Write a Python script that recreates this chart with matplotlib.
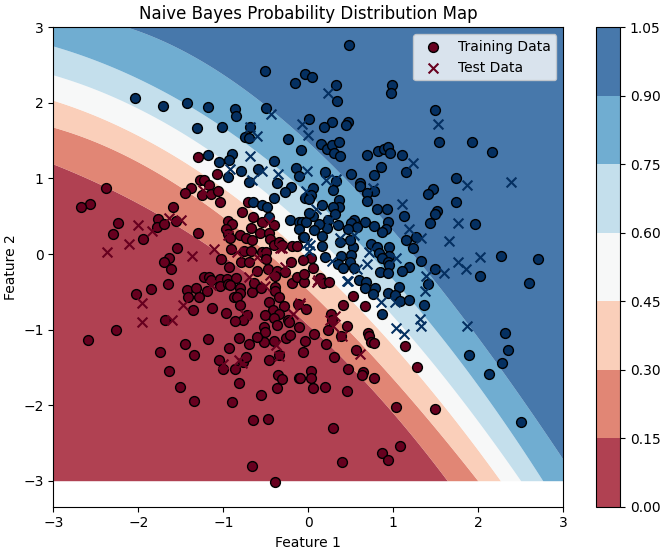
import matplotlib
matplotlib.use('Agg')
import matplotlib.pyplot as plt
import numpy as np
from matplotlib.cm import ScalarMappable
from matplotlib.colors import BoundaryNorm, ListedColormap, Normalize

# class 0 training points
train_red = [
    (-2.371,0.877),(-2.556,0.666),(-2.662,0.622),(-1.581,0.626),(-2.237,0.419),(-2.288,0.266),(-1.935,0.204),
    (-1.758,0.468),(-1.774,0.367),(-1.695,0.402),(-1.550,0.437),(-1.290,0.283),(-1.542,0.081),(-1.632,-0.046),
    (-1.687,-0.095),(-1.294,1.285),(-1.066,1.070),(-1.271,0.982),(-1.224,0.982),(-1.165,0.912),(-1.369,0.881),
    (-1.444,0.815),(-1.247,0.789),(-1.141,0.797),(-1.051,0.837),(-1.031,0.696),(-0.701,0.696),(-0.768,0.564),
    (-0.642,0.490),(-0.933,0.446),(-0.893,0.402),(-0.540,0.433),(-0.395,0.384),(-0.666,0.345),(-0.964,0.331),
    (-0.933,0.270),(-0.913,0.213),(-0.795,0.257),(-0.567,0.288),(-0.450,0.279),(-0.728,0.213),(-0.658,0.191),
    (-0.442,0.200),(-0.391,0.125),(-0.343,0.169),(-0.304,0.125),(-0.186,0.112),(-0.127,0.112),(-0.901,0.068),
    (-0.748,0.046),(-0.670,0.046),(-0.540,0.037),(-0.489,0.037),(-1.015,-0.064),(-0.925,-0.161),(-0.780,-0.099),
    (-0.685,-0.099),(-0.489,-0.060),(-0.198,-0.095),(-1.613,-0.196),(-1.640,-0.389),(-1.840,-0.460),(-2.017,-0.521),
    (-1.220,-0.293),(-1.157,-0.293),(-1.141,-0.345),(-1.027,-0.328),(-0.953,-0.328),(-0.846,-0.306),(-1.031,-0.420),
    (-0.941,-0.394),(-0.909,-0.411),(-1.184,-0.491),(-1.424,-0.473),(-1.314,-0.442),(-1.404,-0.570),(-1.279,-0.565),
    (-1.345,-0.741),(-1.125,-0.710),(-0.956,-0.776),(-0.799,-0.447),(-0.791,-0.513),(-0.870,-0.561),(-0.831,-0.570),
    (-0.799,-0.671),(-0.650,-0.499),(-0.630,-0.381),(-0.552,-0.447),(-0.591,-0.218),(-0.469,-0.196),(-0.367,-0.218),
    (-0.269,-0.236),(-0.383,-0.280),(-0.186,-0.381),(-0.127,-0.293),(-0.049,-0.367),(-0.041,-0.262),(-0.379,-0.433),
    (-0.383,-0.491),(-0.343,-0.561),(-0.450,-0.631),(-0.414,-0.732),(-0.273,-0.688),(-0.343,-0.785),(-0.501,-0.798),
    (-0.402,-0.842),(-0.233,-0.864),(-0.218,-0.899),(-0.363,-0.930),(-0.717,-0.798),(-0.760,-0.869),(-0.858,-0.877),
    (-0.116,-0.658),(-0.021,-0.719),(-0.100,-0.965),(-0.512,-0.956),(-0.505,-1.031),(-0.516,-1.163),(-0.591,-1.097),
    (-0.803,-1.102),(-0.685,-1.189),(-0.929,-1.242),(-1.176,-1.124),(-1.444,-1.185),(-1.334,-1.326),(-1.742,-1.286),
    (-1.679,-0.869),(-2.257,-1.005),(-2.583,-1.137),(-1.047,-1.400),(-0.999,-1.523),(-0.850,-1.519),(-0.764,-1.422),
    (-0.721,-1.361),(-0.461,-1.400),(-0.391,-1.141),(-0.261,-1.110),(-0.214,-1.062),(-0.033,-1.150),(-0.061,-1.295),
    (-0.343,-1.335),(-0.351,-1.594),(-0.304,-1.655),(-0.108,-1.642),(-0.363,-1.770),(-0.544,-1.862),(-0.811,-1.704),
    (-1.628,-1.545),(-1.503,-1.757),(-1.334,-1.946),(-0.886,-1.959),(-0.638,-2.196),(-0.465,-2.178),(-0.654,-2.807),
    (-0.387,-3.018),(0.042,-0.051),(0.061,-0.183),(-0.057,-0.073),(0.148,-0.306),(0.179,-0.381),(0.246,-0.359),
    (0.529,-0.556),(0.411,-0.666),(0.678,-0.688),(0.277,-0.785),(0.289,-0.864),(0.234,-0.996),(0.462,-0.943),
    (0.391,-1.075),(0.077,-1.053),(0.218,-1.185),(0.706,-1.044),(0.725,-1.084),(0.749,-1.163),(0.784,-1.167),
    (0.572,-1.264),(0.313,-1.356),(1.146,-1.216),(1.291,-1.484),(0.474,-1.515),(0.651,-1.550),(0.639,-1.598),
    (0.780,-1.642),(0.042,-1.545),(0.042,-1.642),(-0.088,-1.642),(0.057,-1.774),(0.199,-1.761),(0.458,-1.805),
    (1.040,-2.025),(1.503,-2.042),(0.293,-2.293),(1.087,-2.535),(0.871,-2.631),(0.949,-2.715),(0.403,-2.746),
]

# class 1 training points
train_blue = [
    (-2.029,2.072),(-1.703,1.962),(-1.420,2.006),(-1.169,1.949),(-0.858,1.918),(-0.846,1.835),(-0.497,2.424),
    (-0.151,2.266),(-0.033,2.389),(0.053,2.345),(-0.493,1.940),(0.014,1.795),(-1.004,1.690),(-1.302,1.668),
    (-0.677,1.681),(-0.736,1.553),(-0.685,1.545),(-0.237,1.531),(-0.084,1.382),(-1.176,1.312),(-0.894,1.329),
    (-0.929,1.255),(-1.039,1.224),(-0.398,1.233),(-0.937,1.026),(-0.784,1.110),(-0.587,1.136),(-0.135,1.149),
    (-0.108,1.039),(-0.689,0.956),(-0.359,0.951),(-0.202,0.890),(-0.265,0.819),(-0.398,0.740),(-0.638,0.688),
    (-0.532,0.652),(-0.473,0.630),(-0.461,0.499),(-0.214,0.455),(-0.108,0.424),(-0.068,0.433),(-0.108,0.336),
    (-0.061,0.235),(-0.030,0.740),(0.486,2.767),(0.336,2.235),(0.989,2.248),(0.981,2.142),(0.344,2.028),
    (1.496,1.905),(0.289,1.751),(0.187,1.681),(0.474,1.747),(0.454,1.712),(0.152,1.466),(0.230,1.400),
    (0.285,1.444),(0.372,1.483),(0.305,1.338),(0.376,1.307),(1.543,1.483),(1.932,1.492),(2.171,1.351),
    (0.698,1.316),(0.827,1.373),(0.902,1.391),(0.945,1.426),(0.965,1.338),(1.110,1.312),(0.867,1.153),
    (1.162,1.092),(0.203,1.092),(0.505,1.061),(0.776,1.044),(1.747,1.008),(0.619,0.938),(0.611,0.907),
    (0.336,0.969),(0.301,0.846),(0.057,0.881),(0.042,0.780),(0.010,0.731),(0.780,0.841),(0.698,0.806),
    (0.698,0.709),(1.476,0.868),(1.417,0.802),(1.743,0.696),(0.364,0.718),(0.364,0.630),(0.171,0.648),
    (0.293,0.626),(0.820,0.604),(0.938,0.600),(0.325,0.534),(1.138,0.512),(1.523,0.569),(1.496,0.529),
    (1.433,0.411),(1.963,0.406),(0.945,0.424),(0.926,0.336),(0.875,0.292),(0.678,0.424),(0.776,0.371),
    (0.549,0.450),(0.513,0.411),(0.584,0.362),(0.474,0.332),(0.356,0.389),(0.234,0.455),(0.226,0.345),
    (0.136,0.406),(0.069,0.323),(0.057,0.507),(-0.021,0.433),(0.010,0.542),(0.164,0.248),(-0.049,0.235),
    (1.279,0.230),(1.162,0.186),(1.236,0.081),(0.957,0.103),(0.741,0.142),(0.812,0.099),(0.835,0.015),
    (0.529,0.103),(0.384,0.160),(0.171,0.112),(0.494,0.191),(0.207,-0.033),(0.391,-0.016),(0.509,-0.007),
    (0.953,-0.016),(0.875,-0.051),(0.945,-0.095),(2.270,-0.025),(2.706,-0.060),(1.334,-0.086),(1.189,-0.161),
    (1.503,-0.187),(0.501,-0.095),(0.356,-0.130),(0.411,-0.183),(0.541,-0.174),(0.953,-0.139),(0.847,-0.227),
    (0.949,-0.249),(1.107,-0.218),(2.026,-0.288),(2.604,-0.385),(1.413,-0.394),(0.600,-0.345),(0.686,-0.367),
    (0.670,-0.442),(0.796,-0.447),(0.765,-0.521),(1.079,-0.433),(0.941,-0.508),(1.032,-0.535),(1.087,-0.614),
    (1.189,-0.609),(1.374,-0.671),(0.871,-0.785),(2.317,-1.040),(2.356,-1.260),(1.892,-1.326),(2.281,-1.431),
    (2.128,-1.589),(2.509,-2.222),
]

test_red = [
    (-2.363,0.037),(-2.10,0.138),(-2.002,0.393),(-1.829,0.314),(-1.632,0.485),(-1.487,0.450),(-1.357,-0.025),
    (-1.106,0.072),(-1.235,0.855),(-0.933,0.257),(-0.453,0.424),(-0.835,0.037),(-0.591,-0.038),(-0.324,0.090),
    (-1.954,-0.644),(-1.947,-0.895),(-1.601,-0.864),(-1.463,-0.666),(-1.141,-0.403),(-0.685,-0.293),(-0.501,-0.425),
    (-0.442,-0.271),(-0.265,-0.161),(-0.736,-0.798),(-0.175,-0.785),(-0.096,-0.644),(-0.371,-1.203),(-0.343,-1.348),
    (-1.0,-1.449),(-0.811,-1.392),(-0.776,-1.436),(0.108,-0.367),(-0.088,-0.666),(0.266,-0.864),(0.325,-0.820),
    (0.293,-0.952),(0.403,-1.084),(0.619,-1.317),(-0.305,0.081),(0.127,-0.337),
]

test_blue = [
    (-0.677,1.685),(-0.430,1.857),(-0.591,1.562),(-0.064,1.720),(0.0,1.575),(-0.677,1.307),(-0.909,1.127),
    (-0.532,1.101),(-0.355,1.070),(-0.658,0.982),(-0.009,1.101),(-0.017,0.841),(0.238,2.138),(1.531,1.725),
    (1.240,1.215),(0.215,0.982),(0.332,1.004),(0.765,0.885),(1.877,0.916),(2.395,0.956),(1.107,0.666),
    (0.101,0.595),(0.266,0.455),(1.771,0.411),(1.197,0.331),(1.338,0.222),(1.657,0.178),(0.384,0.213),
    (0.541,0.257),(0.030,0.125),(0.718,0.037),(0.285,-0.086),(0.698,-0.130),(1.040,-0.051),(2.022,-0.029),
    (1.763,-0.104),(0.580,-0.196),(0.474,-0.350),(1.602,-0.240),(1.861,-0.196),(1.397,-0.280),(1.378,-0.491),
    (0.867,-0.636),(1.024,-0.636),(1.327,-0.851),(1.334,-0.948),(1.044,-0.974),(1.134,-1.058),(1.877,-0.952),
    (-0.010,0.147),(0.021,0.050),(0.461,-0.346),
]

# probability levels and where each band edge runs
levels = [0.0, 0.15, 0.30, 0.45, 0.60, 0.75, 0.90, 1.05]
edge_015 = [(-3,1.18),(-2,0.71),(-1,-0.08),(-0.09,-0.84),(0.5,-1.47),(1.5,-2.82),(1.641,-3)]
edge_030 = [(-3,1.68),(-2,1.22),(-1,0.47),(0.5,-1.0),(1.5,-2.37),(2.014,-3)]
edge_045 = [(-3,2.03),(-2,1.58),(-1,0.86),(0.5,-0.61),(1.5,-1.87),(2.258,-3)]
edge_060 = [(-3,2.37),(-2,1.92),(-1,1.26),(0.5,-0.25),(1.5,-1.47),(2.494,-3)]
edge_075 = [(-3,2.75),(-2,2.31),(-1,1.72),(0.5,0.17),(1.5,-0.94),(2.749,-3)]
edge_090 = [(-2.11,3),(-2,2.94),(-1,2.40),(-0.07,1.51),(0.5,0.96),(1.5,-0.43),(2.27,-1.48),(3,-2.74)]

fig = plt.figure(figsize=(6.68, 5.54), dpi=100)
ax = fig.add_axes([53.3/668, 1-506.7/554, 510/668, 479.4/554])
cax = fig.add_axes([595.7/668, 1-506.7/554, 24.3/668, 479.4/554])

cmap = plt.get_cmap('RdBu')
mids = [(a+b)/2 for a, b in zip(levels[:-1], levels[1:])]
colors = cmap(Normalize(0, 1.05)(mids))

# smooth the read-off edges, the map only covers y from -3 to 3
xs = np.linspace(-3, 3, 1201)
lines = [np.full_like(xs, -3.0)]
for e in [edge_015, edge_030, edge_045, edge_060, edge_075, edge_090]:
    e = np.array(e)
    lines.append(np.clip(np.polyval(np.polyfit(e[:, 0], e[:, 1], 3), xs), -3, 3))
lines.append(np.full_like(xs, 3.0))
for i in range(7):
    ax.fill_between(xs, lines[i], lines[i+1], color=colors[i], alpha=0.8, lw=0)

# small shift from calibrating the read-off against the ticks
shift = [-0.007, -0.005]
dark_red, dark_blue = cmap(0.0), cmap(1.0)
tr = np.array(train_red) + shift
tb = np.array(train_blue) + shift
ter = np.array(test_red) + shift
teb = np.array(test_blue) + shift
ax.scatter(tr[:, 0], tr[:, 1], color=dark_red, edgecolors='k', s=50, label='Training Data')
ax.scatter(tb[:, 0], tb[:, 1], color=dark_blue, edgecolors='k', s=50)
ax.scatter(ter[:, 0], ter[:, 1], color=dark_red, marker='x', s=50, label='Test Data')
ax.scatter(teb[:, 0], teb[:, 1], color=dark_blue, marker='x', s=50)

ax.set_xlim(-3, 3)
ax.set_ylim(-3.344, 3)
ax.set_xticks(range(-3, 4))
ax.set_yticks(range(-3, 4))
ax.set_xlabel('Feature 1')
ax.set_ylabel('Feature 2')
ax.set_title('Naive Bayes Probability Distribution Map')
ax.legend(loc='upper right')

sm = ScalarMappable(norm=BoundaryNorm(levels, 7), cmap=ListedColormap(colors))
cb = fig.colorbar(sm, cax=cax, ticks=levels, alpha=0.8)
cb.ax.set_yticklabels(['%.2f' % v for v in levels])

plt.savefig('out.png', dpi=100)
